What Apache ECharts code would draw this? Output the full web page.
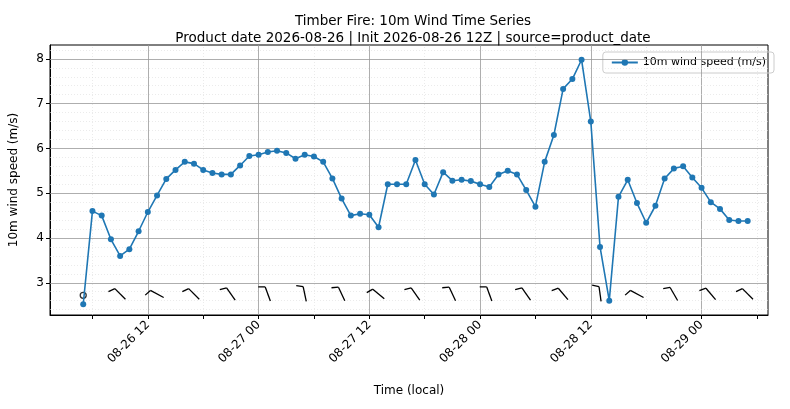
<!DOCTYPE html>
<html><head><meta charset="utf-8">
<script src="https://cdn.jsdelivr.net/npm/echarts@6/dist/echarts.min.js"></script>
<style>html,body{margin:0;padding:0;background:#fff}#c{width:790px;height:409px}</style>
</head><body><div id="c"></div>
<script>
// hours since 2026-08-26 00:00 local
const startHour = 5;
const windSpeed = [2.52,4.6,4.5,3.97,3.6,3.75,4.15,4.58,4.95,5.32,5.52,5.7,5.66,5.52,5.45,5.42,5.42,5.62,5.83,
5.86,5.92,5.95,5.9,5.77,5.86,5.82,5.7,5.33,4.88,4.5,4.54,4.52,4.24,5.2,5.2,5.2,5.74,5.2,4.97,5.47,5.28,5.3,5.27,
5.2,5.14,5.42,5.5,5.42,5.07,4.7,5.7,6.3,7.33,7.55,7.98,6.6,3.8,2.6,4.92,5.3,4.78,4.34,4.72,5.33,5.55,5.6,5.35,
5.12,4.8,4.65,4.4,4.38,4.38];
// barbs every 4 h from 09:00 on 08-26; angle of staff from vertical (deg, toward upper-left)
const barbHours = [9,13,17,21,25,29,33,37,41,45,49,53,57,61,65,69,73,77];
const barbAngles = [45,62,45,35,20,12,25,50,35,25,20,35,40,8,62,30,40,45];
const calmHour = 5;
const barbY = 2.75;
const majorX = [12,24,36,48,60,72];
const minorX = [6,18,30,42,54,66,78];
const yTicks = [3,4,5,6,7,8];

function fmt(h){const d=26+Math.floor(h/24);const hh=h%24;return '08-'+d+' '+(hh<10?'0':'')+hh;}
const lineData = windSpeed.map((v,i)=>[startHour+i,v]);
const yMinor=[];for(let v=2.4;v<8.3;v+=0.2){const r=Math.round(v*10)/10;if(Math.abs(r-Math.round(r))>0.01)yMinor.push(r);}

const mk=[];
majorX.forEach(x=>mk.push({xAxis:x,lineStyle:{color:'#999',width:0.8,type:'solid'}}));
minorX.forEach(x=>mk.push({xAxis:x,lineStyle:{color:'#ddd',width:0.6,type:[1,2]}}));
yTicks.forEach(y=>mk.push({yAxis:y,lineStyle:{color:'#999',width:0.8,type:'solid'}}));
yMinor.forEach(y=>mk.push({yAxis:y,lineStyle:{color:'#ddd',width:0.6,type:[1,2]}}));

const barbData = barbHours.map((h,i)=>[h,barbY,barbAngles[i]]);

const chart = echarts.init(document.getElementById('c'));
chart.setOption({
  animation:false,
  title:{text:'Timber Fire: 10m Wind Time Series\nProduct date 2026-08-26 | Init 2026-08-26 12Z | source=product_date',
    left:408,top:8,textAlign:'center',textStyle:{fontFamily:'DejaVu Sans',fontSize:13.5,fontWeight:'normal',color:'#000',lineHeight:17}},
  legend:{right:16,top:52,itemWidth:26,itemHeight:8,data:['10m wind speed (m/s)'],
    borderColor:'#ccc',borderWidth:1,borderRadius:3,padding:[5,8],
    textStyle:{fontFamily:'DejaVu Sans',fontSize:11,color:'#000'}},
  grid:{left:48,right:22,top:45,bottom:94,show:true,borderColor:'#000',borderWidth:1,backgroundColor:'transparent'},
  xAxis:{type:'value',min:1.4,max:79.2,
    name:'Time (local)',nameLocation:'middle',nameGap:70,nameTextStyle:{fontFamily:'DejaVu Sans',fontSize:12,color:'#000'},
    axisLine:{show:true,lineStyle:{color:'#000'}},
    axisTick:{show:true,length:4,customValues:majorX.concat(minorX),lineStyle:{color:'#000'}},
    axisLabel:{customValues:majorX,rotate:45,formatter:v=>fmt(v),fontFamily:'DejaVu Sans',fontSize:12,color:'#000',margin:8},
    splitLine:{show:false}},
  yAxis:{type:'value',min:2.28,max:8.31,
    name:'10m wind speed (m/s)',nameLocation:'middle',nameGap:30,nameTextStyle:{fontFamily:'DejaVu Sans',fontSize:12,color:'#000'},
    axisLine:{show:true,lineStyle:{color:'#000'}},
    axisTick:{show:true,length:4,customValues:yTicks,lineStyle:{color:'#000'}},
    axisLabel:{customValues:yTicks,fontFamily:'DejaVu Sans',fontSize:12,color:'#000',margin:6},
    splitLine:{show:false}},
  series:[
    {type:'line',name:'grid',data:[],silent:true,markLine:{symbol:'none',silent:true,label:{show:false},data:mk}},
    {type:'custom',name:'barbs',silent:true,data:barbData,z:5,
      renderItem:function(params,api){
        const p=api.coord([api.value(0),api.value(1)]);
        const a=api.value(2)*Math.PI/180;
        const L=15;
        const dx=-Math.sin(a),dy=-Math.cos(a); // unit toward upper-left
        const x0=p[0]-dx*L/2,y0=p[1]-dy*L/2,x1=p[0]+dx*L/2,y1=p[1]+dy*L/2;
        // flag: perpendicular clockwise (to the right of staff direction)
        const fx=-dy,fy=dx; // rotate
        const fl=7;
        const ang=0.35;
        const bx=fx*Math.cos(ang)-dx*Math.sin(ang)*-1, by=fy*Math.cos(ang)-dy*Math.sin(ang)*-1;
        return {type:'group',children:[
          {type:'line',shape:{x1:x0,y1:y0,x2:x1,y2:y1},style:{stroke:'#000',lineWidth:1.3}},
          {type:'line',shape:{x1:x1,y1:y1,x2:x1-fx*fl*Math.cos(ang)+dx*fl*Math.sin(ang),y2:y1-fy*fl*Math.cos(ang)+dy*fl*Math.sin(ang)},style:{stroke:'#000',lineWidth:1.3}}
        ]};
      }},
    {type:'scatter',name:'calm',silent:true,data:[[calmHour,2.72]],symbol:'circle',symbolSize:6,z:5,
      itemStyle:{color:'transparent',borderColor:'#000',borderWidth:1.3}},
    {type:'line',name:'10m wind speed (m/s)',data:lineData,symbol:'circle',symbolSize:6,showSymbol:true,z:10,
      color:'#1f77b4',lineStyle:{width:1.6,color:'#1f77b4'},itemStyle:{color:'#1f77b4'}}
  ]
});
</script></body></html>
